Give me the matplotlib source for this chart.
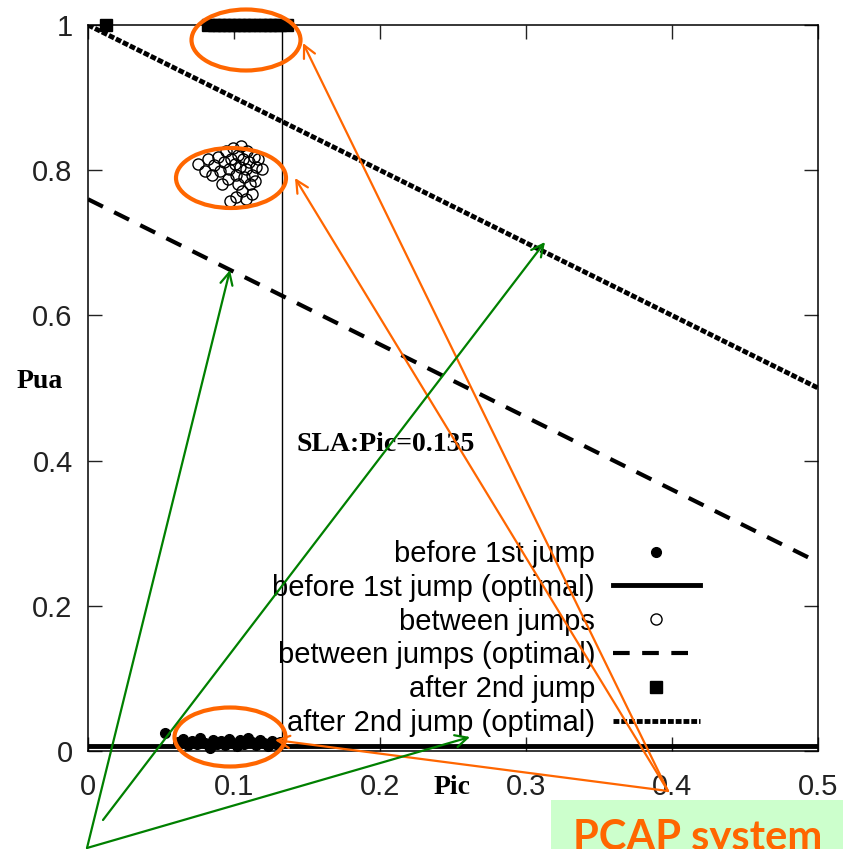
import matplotlib
matplotlib.use("Agg")
import matplotlib.pyplot as plt
from matplotlib.patches import Ellipse, Rectangle

W, H = 843, 849

# before 1st jump (filled circles)
before_x = [0.0527, 0.0616, 0.0651, 0.0685, 0.0712, 0.0747, 0.0767, 0.0801, 0.0829, 0.0836,
            0.0856, 0.0884, 0.0911, 0.0938, 0.0966, 0.0993, 0.1021, 0.1041, 0.1068, 0.1096,
            0.1123, 0.1151, 0.1178, 0.1205, 0.1233, 0.1260, 0.1288, 0.1315]
before_y = [0.0248, 0.0124, 0.0166, 0.0083, 0.0138, 0.0097, 0.0179, 0.0110, 0.0069, 0.0041,
            0.0152, 0.0097, 0.0138, 0.0083, 0.0166, 0.0110, 0.0069, 0.0152, 0.0097, 0.0179,
            0.0124, 0.0083, 0.0152, 0.0110, 0.0069, 0.0138, 0.0097, 0.0124]

# between jumps (open circles)
between_x = [0.0753, 0.0801, 0.0822, 0.0863, 0.0890, 0.0904, 0.0932, 0.0945, 0.0966, 0.0979,
             0.0993, 0.1007, 0.1014, 0.1027, 0.1041, 0.1048, 0.1062, 0.1068, 0.1082, 0.1089,
             0.1103, 0.1110, 0.1123, 0.1137, 0.1151, 0.1164, 0.1192, 0.1027, 0.1055, 0.1014,
             0.0973, 0.1082, 0.1123, 0.1144, 0.0959, 0.0849, 0.0918]
between_y = [0.808, 0.799, 0.815, 0.807, 0.818, 0.799, 0.811, 0.826, 0.801, 0.815,
             0.830, 0.808, 0.794, 0.821, 0.804, 0.833, 0.815, 0.790, 0.801, 0.826,
             0.811, 0.781, 0.794, 0.818, 0.804, 0.815, 0.801, 0.781, 0.771, 0.763,
             0.757, 0.760, 0.767, 0.785, 0.788, 0.793, 0.781]

# after 2nd jump (squares)
after_x = [0.0123, 0.0825, 0.0860, 0.0895, 0.0930, 0.0965, 0.1000, 0.1035, 0.1070,
           0.1105, 0.1140, 0.1175, 0.1210, 0.1245, 0.1280, 0.1315, 0.1360]
after_y = [1.0] * len(after_x)

# optimal lines
opt_x = [0.0, 0.5]
before_opt_y = [0.007, 0.007]
between_opt_y = [0.76, 0.26]
after_opt_y = [1.0, 0.5]

sla_pic = 0.133

ORANGE = "#FF6600"
GREEN = "#008000"

plt.rcParams["font.family"] = "Liberation Sans"

fig = plt.figure(figsize=(W / 100, H / 100), dpi=100)
ax = fig.add_axes([88 / W, (H - 751) / H, 730 / W, 726 / H])

ax.plot(before_x, before_y, "o", color="black", ms=7, label="before 1st jump", clip_on=False)
ax.plot(opt_x, before_opt_y, "-", color="black", lw=3.5, label="before 1st jump (optimal)")
ax.plot(between_x, between_y, "o", mfc="none", mec="black", mew=1.0, ms=8, label="between jumps")
ax.plot(opt_x, between_opt_y, color="black", lw=3, ls=(0, (4, 3)), label="between jumps (optimal)")
ax.plot(after_x, after_y, "s", color="black", ms=8, label="after 2nd jump", clip_on=False)
ax.plot(opt_x, after_opt_y, color="black", lw=3.5, ls=(0, (1.2, 0.4)), label="after 2nd jump (optimal)")

ax.axvline(sla_pic, color="black", lw=1)
ax.text(0.143, 0.422, "SLA:Pic=0.135", family="Liberation Serif", weight="bold", fontsize=20, va="center")

ax.set_xlim(0, 0.5)
ax.set_ylim(0, 1)
ax.set_xticks([0, 0.1, 0.2, 0.3, 0.4, 0.5], ["0", "0.1", "0.2", "0.3", "0.4", "0.5"])
ax.set_yticks([0, 0.2, 0.4, 0.6, 0.8, 1], ["0", "0.2", "0.4", "0.6", "0.8", "1"])
ax.tick_params(direction="in", length=10, width=1, labelsize=21, pad=11,
               top=True, right=True, colors="#222222")
ax.tick_params(axis="x", pad=16)
for s in ax.spines.values():
    s.set_linewidth(1.1)

fig.text(452 / W, 1 - 787 / H, "Pic", family="Liberation Serif", weight="bold", fontsize=20,
         ha="center", va="center")
fig.text(40 / W, 1 - 382 / H, "Pua", family="Liberation Serif", weight="bold", fontsize=20,
         ha="center", va="center")

leg = ax.legend(loc="lower right", bbox_to_anchor=(700 / W, 1 - 737 / H), bbox_transform=fig.transFigure,
                frameon=False, markerfirst=False, fontsize=21, handlelength=3.0, handletextpad=0.6,
                labelspacing=0.2, borderpad=0, borderaxespad=0)
for col in leg._legend_handle_box.get_children():
    col.align = "right"


def fp(x, y):
    return (x / W, 1 - y / H)


# annotation overlay
fig.add_artist(Rectangle(fp(551, 849), (W - 551) / W, 49 / H, transform=fig.transFigure,
                         facecolor="#CCFFCC", edgecolor="none"))
fig.text(698 / W, 1 - 850 / H, "PCAP system", family="Lato", weight="bold", fontsize=30,
         color=ORANGE, ha="center", va="baseline")

for cx, cy, w, h in [(246, 40, 109, 61), (231, 178, 110, 60), (230, 737, 111, 59)]:
    fig.add_artist(Ellipse(fp(cx, cy), w / W, h / H, transform=fig.transFigure,
                           fill=False, edgecolor=ORANGE, lw=3))

arrows = [
    ((668, 791), (303, 43), ORANGE),
    ((668, 791), (295, 178), ORANGE),
    ((668, 791), (275, 740), ORANGE),
    ((87, 848), (230, 270), GREEN),
    ((103, 820), (545, 242), GREEN),
    ((87, 848), (470, 737), GREEN),
]
for src, tip, c in arrows:
    fig.add_artist(matplotlib.patches.FancyArrowPatch(
        fp(*src), fp(*tip), transform=fig.transFigure, arrowstyle="->",
        mutation_scale=22, color=c, lw=1.6, shrinkA=0, shrinkB=0))

fig.savefig("out.png", dpi=100)
